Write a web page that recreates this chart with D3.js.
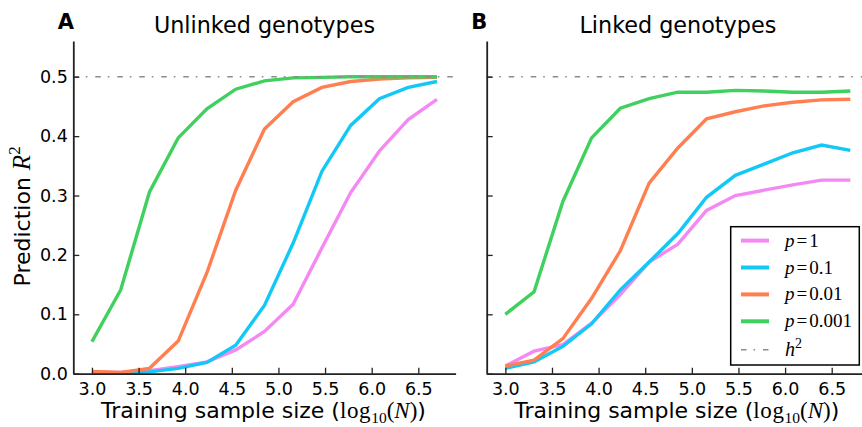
<!DOCTYPE html>
<html>
<head>
<meta charset="utf-8">
<script src="https://cdn.jsdelivr.net/npm/d3@7"></script>
<style>
  html, body { margin: 0; padding: 0; background: #fff; }
  svg { display: block; }
  text { font-family: "DejaVu Sans", sans-serif; fill: #000; }
  .math { font-family: "Liberation Serif", "DejaVu Serif", serif; }
</style>
</head>
<body>
<svg id="chart" width="862" height="427"></svg>
<script>
// ---------------- data ----------------
const logN = [3.0, 3.308, 3.617, 3.925, 4.233, 4.542, 4.85, 5.158, 5.467, 5.775, 6.083, 6.392, 6.7];

const seriesNames = ["p=1", "p=0.1", "p=0.01", "p=0.001"];
const seriesPvals = ["1", "0.1", "0.01", "0.001"];
const seriesColors = ["#f589f4", "#12c8f6", "#ff7f50", "#3fd05e"];

const unlinkedP1    = [0.003, 0.002, 0.005, 0.012, 0.020, 0.040, 0.071, 0.117, 0.212, 0.305, 0.375, 0.428, 0.462];
const unlinkedP01   = [0.002, 0.001, 0.003, 0.009, 0.019, 0.048, 0.115, 0.220, 0.341, 0.418, 0.463, 0.482, 0.492];
const unlinkedP001  = [0.004, 0.002, 0.009, 0.055, 0.170, 0.309, 0.412, 0.458, 0.482, 0.492, 0.496, 0.498, 0.499];
const unlinkedP0001 = [0.054, 0.141, 0.306, 0.397, 0.446, 0.479, 0.493, 0.498, 0.499, 0.500, 0.500, 0.500, 0.500];

const linkedP1    = [0.013, 0.038, 0.049, 0.085, 0.133, 0.188, 0.218, 0.275, 0.300, 0.309, 0.318, 0.326, 0.326];
const linkedP01   = [0.009, 0.020, 0.046, 0.084, 0.141, 0.188, 0.236, 0.297, 0.334, 0.353, 0.372, 0.385, 0.376];
const linkedP001  = [0.013, 0.023, 0.059, 0.127, 0.207, 0.321, 0.380, 0.429, 0.441, 0.451, 0.457, 0.461, 0.462];
const linkedP0001 = [0.100, 0.138, 0.290, 0.397, 0.447, 0.463, 0.474, 0.474, 0.477, 0.476, 0.474, 0.474, 0.476];

const heritability = 0.5;
const xTicks = [3.0, 3.5, 4.0, 4.5, 5.0, 5.5, 6.0, 6.5];
const yTicks = [0.0, 0.1, 0.2, 0.3, 0.4, 0.5];

const panels = [
  { letter: "A", title: "Unlinked genotypes", series: [unlinkedP1, unlinkedP01, unlinkedP001, unlinkedP0001], left: 73.3, yLabels: true, legend: false },
  { letter: "B", title: "Linked genotypes", series: [linkedP1, linkedP01, linkedP001, linkedP0001], left: 486.7, yLabels: false, legend: true }
];

// ---------------- layout ----------------
const svg = d3.select("#chart");
const plotW = 382.3, plotTop = 41.1, plotBottom = 373.7;
const y = d3.scaleLinear().domain([0, 0.56]).range([plotBottom, plotTop]);

panels.forEach(p => {
  const x = d3.scaleLinear().domain([2.8, 6.9]).range([p.left, p.left + plotW]);
  const g = svg.append("g");

  // lines
  const line = d3.line().x((d, i) => x(logN[i])).y(d => y(d));
  p.series.forEach((s, k) => {
    g.append("path").datum(s)
      .attr("d", line)
      .attr("fill", "none")
      .attr("stroke", seriesColors[k])
      .attr("stroke-width", 3.4)
      .attr("stroke-linejoin", "miter");
  });

  // h^2 reference line
  g.append("line")
    .attr("x1", x(2.8)).attr("x2", x(6.9))
    .attr("y1", y(heritability)).attr("y2", y(heritability))
    .attr("stroke", "#8c8c8c").attr("stroke-width", 1.4)
    .attr("stroke-dasharray", "5.5,7,1.6,7.9");

  // axes
  const xAxis = d3.axisBottom(x).tickValues(xTicks).tickFormat(d3.format(".1f"))
    .tickSizeInner(-6).tickSizeOuter(0).tickPadding(9);
  const yAxis = d3.axisLeft(y).tickValues(yTicks)
    .tickFormat(p.yLabels ? d3.format(".1f") : () => "")
    .tickSizeInner(-6).tickSizeOuter(0).tickPadding(5.5);

  const gx = g.append("g").attr("transform", `translate(0,${plotBottom})`).call(xAxis);
  const gy = g.append("g").attr("transform", `translate(${p.left},0)`).call(yAxis);
  [gx, gy].forEach(a => {
    a.select(".domain").attr("stroke", "#222").attr("stroke-width", 1.8);
    a.selectAll(".tick line").attr("stroke", "#222").attr("stroke-width", 1.3);
    a.selectAll(".tick text").attr("font-family", "DejaVu Sans").attr("font-size", 17.5).attr("fill", "#111");
  });

  // title and letter
  g.append("text").attr("x", p.left + plotW / 2).attr("y", 33)
    .attr("text-anchor", "middle").attr("font-size", 22.3).text(p.title);
  g.append("text").attr("x", p.left - 15.5).attr("y", 28.5)
    .attr("font-size", 21).attr("font-weight", "bold").text(p.letter);

  // x label
  const xl = g.append("text").attr("x", p.left + plotW / 2 - 1).attr("y", 418)
    .attr("text-anchor", "middle").attr("font-size", 22);
  xl.append("tspan").text("Training sample size (");
  xl.append("tspan").attr("class", "math").attr("font-size", 23).attr("letter-spacing", 0.6).text("log");
  xl.append("tspan").attr("class", "math").attr("font-size", 15.5).attr("dy", 5).text("10");
  xl.append("tspan").attr("class", "math").attr("font-size", 23).attr("dy", -5).text("(");
  xl.append("tspan").attr("class", "math").attr("font-size", 23).attr("font-style", "italic").text("N");
  xl.append("tspan").attr("class", "math").attr("font-size", 23).text(")");
  xl.append("tspan").text(")");

  if (p.yLabels) {
    const yl = svg.append("text").attr("transform", `translate(29.5,${(plotTop + plotBottom) / 2 + 9}) rotate(-90)`)
      .attr("text-anchor", "middle").attr("font-size", 22);
    yl.append("tspan").text("Prediction ");
    yl.append("tspan").attr("class", "math").attr("font-style", "italic").attr("font-size", 25).text("R");
    yl.append("tspan").attr("class", "math").attr("font-size", 17).attr("dy", -10).text("2");
  }

  if (p.legend) {
    const lg = svg.append("g");
    lg.append("rect").attr("x", 730.7).attr("y", 226.7).attr("width", 128.6).attr("height", 138.3)
      .attr("fill", "#fff").attr("stroke", "#000").attr("stroke-width", 1.5);
    const rowY = i => 240.6 + i * 26.9;
    seriesNames.forEach((name, i) => {
      lg.append("line").attr("x1", 741).attr("x2", 769).attr("y1", rowY(i)).attr("y2", rowY(i))
        .attr("stroke", seriesColors[i]).attr("stroke-width", 4);
      const t = lg.append("text").attr("class", "math").attr("x", 785).attr("y", rowY(i) + 6).attr("font-size", 19);
      t.append("tspan").attr("font-style", "italic").text("p");
      t.append("tspan").attr("dx", 2).text("=");
      t.append("tspan").attr("dx", 2).text(seriesPvals[i]);
    });
    lg.append("line").attr("x1", 741).attr("x2", 769).attr("y1", rowY(4) + 1.5).attr("y2", rowY(4) + 1.5)
      .attr("stroke", "#8c8c8c").attr("stroke-width", 1.4).attr("stroke-dasharray", "5.5,7,1.6,7.9");
    const ht = lg.append("text").attr("class", "math").attr("x", 785).attr("y", rowY(4) + 7.5).attr("font-size", 20);
    ht.append("tspan").attr("font-style", "italic").text("h");
    ht.append("tspan").attr("font-size", 14).attr("dy", -8).text("2");
  }
});
</script>
</body>
</html>
